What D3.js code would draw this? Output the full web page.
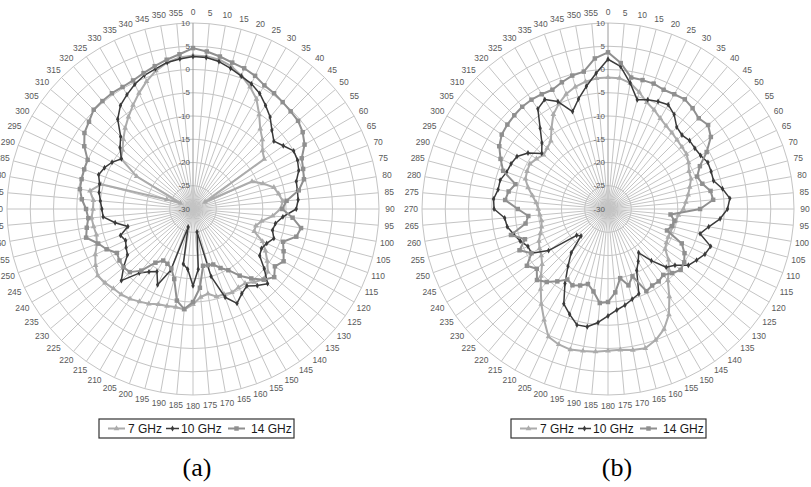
<!DOCTYPE html>
<html><head><meta charset="utf-8">
<script src="https://cdn.jsdelivr.net/npm/d3@7/dist/d3.min.js"></script>
<style>html,body{margin:0;padding:0;background:#fff;}svg{display:block;}</style>
</head><body>
<svg id="chart" width="811" height="487"></svg>
<script>
// ---- Data ----
const angles = [0,5,10,15,20,25,30,35,40,45,50,55,60,65,70,75,80,85,90,95,100,105,110,115,
  120,125,130,135,140,145,150,155,160,165,170,175,180,185,190,195,200,205,210,215,220,225,230,235,
  240,245,250,255,260,265,270,275,280,285,290,295,300,305,310,315,320,325,330,335,340,345,350,355];
const radialTicks = [-30,-25,-20,-15,-10,-5,0,5,10];
const seriesNames = ["7 GHz","10 GHz","14 GHz"];

// Panel (a)
const a7 = [3.0,3.0,2.6,1.8,0.5,-1.0,-2.7,-5.2,-7.5,-8.9,-10.5,-11.3,-27,-16,-14,-12,-11.3,-10.6,-11.2,-12.8,-15,-16,-16,-13.5,
  -12,-10.5,-9.0,-8.6,-9.5,-10.5,-10.5,-10.2,-10.5,-10.5,-11.5,-11,-9.5,-8.3,-8.6,-8.4,-8.2,-7.5,-7.0,-6.4,-6.0,-5.8,-5.3,-5.0,
  -5.8,-6.8,-8.0,-8.5,-8.3,-8.1,-8.5,-8.5,-7.5,-9.5,-24,-27,-16,-11.1,-10.2,-8.8,-7.3,-5.8,-4.2,-2.5,-0.8,0.8,2.0,2.7];
const a10 = [2.8,2.7,2.2,1.3,0.4,-0.3,-1.3,-2.8,-4.2,-6.0,-7.3,-6.3,-5.0,-5.2,-5.8,-7.0,-7.2,-7.3,-7.8,-10.6,-12,-12.3,-11.5,-12.5,
  -13,-12.5,-10,-7.3,-8.5,-9.8,-9,-7.6,-9.8,-15,-25,-17,-13.5,-17,-18,-26,-16,-12,-14.5,-13.5,-12,-8.2,-10.5,-12.8,
  -13.4,-14,-13.4,-15.5,-13,-10.6,-10.4,-10,-9.5,-9.2,-8.4,-9,-9.9,-11.2,-9.5,-8.0,-4.8,-2.8,-1.6,-0.4,0.6,1.2,2.0,2.4];
const a14 = [4.6,4.0,3.3,2.6,2.2,1.6,0.7,0.4,0.0,-0.3,-0.5,-1.2,-2.3,-4.2,-4.8,-5.3,-6.9,-9.8,-10.8,-8.5,-6.4,-7.0,-9.4,-8.5,
  -7.5,-8.5,-7.2,-8.5,-10.5,-12.5,-14.8,-16,-17.3,-17.5,-17.6,-13,-10,-8.4,-10,-14.4,-16.4,-17,-17.2,-15.9,-12.7,-10.8,-10.5,-10.7,
  -11.1,-9.5,-8.3,-6.2,-6.8,-7.4,-7.0,-6.0,-5.3,-5.2,-5.1,-5.0,-3.0,-1.5,-0.8,0.2,0.3,0.4,0.3,0.5,1.1,1.8,2.6,3.4];

// Panel (b)
const b7 = [-1.7,-1.75,-2.5,-4,-5.6,-6.5,-7.5,-8.2,-8.6,-9.0,-9.25,-9.4,-10,-10.8,-11,-11.8,-12.5,-13.2,-13.8,-14.8,-15.2,-15.5,-15.7,-15.7,
  -15.5,-15,-13,-11.5,-10,-7,-3.8,-1.5,0.0,1.0,0.8,0.4,0.5,0.8,1.0,1.3,1.0,0.3,-2.5,-5,-7.5,-9.6,-11.5,-12.5,
  -13,-13.6,-14.5,-15.2,-15.5,-15.3,-15,-14.5,-13.5,-12.2,-11.1,-10.8,-10.6,-11.2,-11.9,-11.5,-10.9,-8.8,-6.5,-5,-3.7,-2.8,-2.2,-1.8];
const b10 = [2.2,0.8,-2.5,-5.7,-5.0,-4.5,-4.1,-5.2,-7.0,-7.5,-7.1,-7.2,-7.0,-6.3,-6.4,-6.5,-5.0,-3.7,-4.3,-5.8,-8.0,-9.5,-6.5,-7.0,
  -8.0,-8.9,-11.2,-12.3,-15.5,-18.5,-17,-15.4,-10.6,-9.9,-9,-8.2,-7.0,-5.5,-4.3,-4.2,-5.9,-7.5,-11.5,-15,-17.7,-21.8,-21.2,-14.4,
  -11,-11,-9.9,-9.0,-8.0,-7.7,-5.5,-5.3,-6.0,-6.0,-6.8,-7.0,-7.4,-9.0,-11.4,-9.9,-7.3,-3.7,-2.8,-4.5,-7.7,-5.5,-3.2,-0.7];
const b14 = [3.7,1.5,-1.3,-1.3,-1.3,-1.7,-1.5,-1.2,-1.7,-2.4,-1.9,-3.0,-5.5,-8.2,-9.6,-9.0,-7.6,-7.3,-10.2,-16.5,-15.5,-15.8,-16.5,-12.5,
  -11,-10,-9.6,-10.5,-11.5,-11,-11,-10.5,-14.6,-13,-14.9,-12,-10,-9.7,-12,-13.3,-12.5,-11.9,-12.5,-11,-9.5,-8.4,-10,-8.7,
  -11,-9,-11,-8.4,-12,-12.8,-10.6,-7.8,-8.3,-9.4,-6.0,-4.5,-3.0,-2.1,-1.75,-1.5,-1.3,-1.3,-1.5,-1.7,-1.0,-0.3,0.0,2.5];

const panels = [
  {label:"(a)", cx:193, cy:209, clipX0:0, clipX1:403, legendX:99, series:[a7,a10,a14], labelX:197},
  {label:"(b)", cx:608, cy:209, clipX0:403, clipX1:811, legendX:511, series:[b7,b10,b14], labelX:617}
];

// ---- Styles ----
const R = 186;
const styles = [
  {color:"#ababab", width:2.0, marker:"triangle", msize:14},
  {color:"#3a3a3a", width:1.5, marker:"diamond", msize:10},
  {color:"#8f8f8f", width:2.0, marker:"square", msize:20}
];
const symbolTypes = {triangle:d3.symbolTriangle, diamond:d3.symbolDiamond, square:d3.symbolSquare};

const svg = d3.select("#chart");
const defs = svg.append("defs");

const rScale = d3.scaleLinear().domain([-30,10]).range([0,R]);
const aScale = d3.scaleLinear().domain([0,360]).range([0,2*Math.PI]);

panels.forEach((p, pi) => {
  defs.append("clipPath").attr("id","clip"+pi)
    .append("rect").attr("x",p.clipX0).attr("y",0).attr("width",p.clipX1-p.clipX0).attr("height",487);

  const outer = svg.append("g").attr("clip-path","url(#clip"+pi+")");
  const g = outer.append("g").attr("transform",`translate(${p.cx},${p.cy})`);

  // rings (polygons like a radar chart)
  const ringLine = d3.lineRadial().angle(d=>aScale(d)).curve(d3.curveLinearClosed);
  radialTicks.slice(1).forEach(t => {
    g.append("path")
      .attr("d", ringLine.radius(rScale(t))(angles))
      .attr("fill","none").attr("stroke","#c4c4c4").attr("stroke-width",1);
  });
  // spokes
  g.selectAll("line.spoke").data(angles).join("line")
    .attr("class","spoke")
    .attr("x1",0).attr("y1",0)
    .attr("x2",d=>d3.pointRadial(aScale(d),R)[0])
    .attr("y2",d=>d3.pointRadial(aScale(d),R)[1])
    .attr("stroke", d => d===0 ? "#9a9a9a" : "#c4c4c4")
    .attr("stroke-width",1);

  // angle labels
  g.selectAll("text.ang").data(angles).join("text")
    .attr("class","ang")
    .attr("x",d=>d3.pointRadial(aScale(d),R+11)[0])
    .attr("y",d=>d3.pointRadial(aScale(d),R+11)[1])
    .attr("text-anchor","middle").attr("dominant-baseline","central")
    .attr("font-family","Liberation Sans, Arial, sans-serif").attr("font-size",8.5)
    .attr("fill","#595959")
    .text(d=>d);

  // series
  p.series.forEach((vals, si) => {
    const st = styles[si];
    const pts = angles.map((a,i)=>({angle:a, value:vals[i]}));
    const line = d3.lineRadial()
      .angle(d=>aScale(d.angle)).radius(d=>rScale(d.value))
      .curve(d3.curveLinearClosed);
    g.append("path").attr("d",line(pts))
      .attr("fill","none").attr("stroke",st.color).attr("stroke-width",st.width)
      .attr("stroke-linejoin","round");
    const sym = d3.symbol().type(symbolTypes[st.marker]).size(st.msize);
    g.selectAll("path.m"+si).data(pts).join("path")
      .attr("class","m"+si)
      .attr("transform",d=>{const q=d3.pointRadial(aScale(d.angle),rScale(d.value));return `translate(${q[0]},${q[1]})`;})
      .attr("d",sym()).attr("fill",st.color);
  });

  // radial value labels along 0° axis
  g.selectAll("text.rad").data(radialTicks).join("text")
    .attr("class","rad")
    .attr("x",-3).attr("y",d=>-rScale(d))
    .attr("text-anchor","end").attr("dominant-baseline","central")
    .attr("font-family","Liberation Sans, Arial, sans-serif").attr("font-size",8)
    .attr("fill","#595959")
    .text(d=>d);

  // legend
  const lg = svg.append("g").attr("transform",`translate(${p.legendX},419)`);
  lg.append("rect").attr("x",0).attr("y",0).attr("width",195).attr("height",19)
    .attr("fill","#fff").attr("stroke","#333").attr("stroke-width",1.2);
  const items = [{x0:9,x1:26,tx:29},{x0:67,x1:80,tx:82},{x0:129,x1:146,tx:152}];
  seriesNames.forEach((name,si)=>{
    const st = styles[si], it = items[si];
    lg.append("line").attr("x1",it.x0).attr("x2",it.x1).attr("y1",9.5).attr("y2",9.5)
      .attr("stroke",st.color).attr("stroke-width",st.width);
    lg.append("path").attr("transform",`translate(${(it.x0+it.x1)/2},9.5)`)
      .attr("d",d3.symbol().type(symbolTypes[st.marker]).size(st.msize)()).attr("fill",st.color);
    lg.append("text").attr("x",it.tx).attr("y",14)
      .attr("font-family","Liberation Sans, Arial, sans-serif").attr("font-size",12)
      .attr("fill","#1a1a1a").text(name);
  });

  // panel label
  svg.append("text").attr("x",p.labelX).attr("y",476).attr("text-anchor","middle")
    .attr("font-family","Liberation Serif, Times New Roman, serif").attr("font-size",26)
    .attr("fill","#000").text(p.label);
});
</script>
</body></html>
